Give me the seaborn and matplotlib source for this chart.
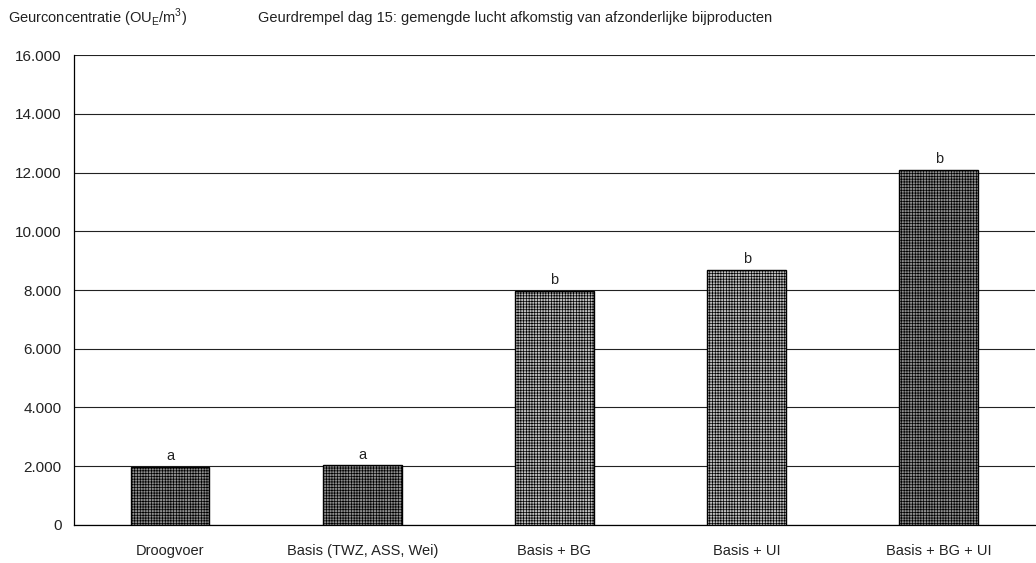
import matplotlib
matplotlib.use("Agg")
import matplotlib.pyplot as plt
from matplotlib.ticker import FuncFormatter, FixedLocator
import seaborn as sns
import pandas as pd

categories = ["Droogvoer", "Basis (TWZ, ASS, Wei)", "Basis + BG", "Basis + UI", "Basis + BG + UI"]
values = [1970, 2030, 7970, 8680, 12080]
letters = ["a", "a", "b", "b", "b"]
shades = ["dark", "dark", "light", "light", "dark"]

face = {"dark": "#8c8c8c", "light": "#bdbdbd"}
hatchc = {"dark": "#3c3c3c", "light": "#6a6a6a"}

sns.set_style("white")
plt.rcParams["font.family"] = ["Liberation Sans", "DejaVu Sans"]
plt.rcParams["hatch.linewidth"] = 0.5

df = pd.DataFrame({"cat": categories, "val": values})

fig = plt.figure(figsize=(10.36, 5.63), dpi=100)
ax = fig.add_axes([0.0714, 0.0675, 0.9276, 0.8348])

sns.barplot(data=df, x="cat", y="val", hue="cat", legend=False,
            palette=[face[s] for s in shades], width=0.41,
            edgecolor="black", linewidth=1.0, saturation=1, ax=ax)

for patch, s in zip(ax.patches, shades):
    patch.set_hatch("++++++")
    if hasattr(patch, "set_hatchcolor"):
        patch.set_hatchcolor(hatchc[s])
    patch.set_zorder(3)

for i, (v, t) in enumerate(zip(values, letters)):
    ax.text(i, v + 130, t, ha="center", va="bottom", fontsize=10.5, color="#222222")

ax.set_ylim(0, 16000)
ax.set_xlim(-0.5, 4.5)
ax.set_yticks(range(0, 16001, 2000))
ax.yaxis.set_major_formatter(FuncFormatter(lambda v, p: f"{int(v):,}".replace(",", ".")))
ax.grid(axis="y", color="#222222", linewidth=0.8, zorder=0)
ax.set_axisbelow(True)

ax.xaxis.set_minor_locator(FixedLocator([-0.5, 0.5, 1.5, 2.5, 3.5, 4.5]))
ax.tick_params(axis="x", which="major", length=0, pad=14, labelsize=10.5, labelcolor="#222222")
ax.tick_params(axis="x", which="minor", length=5, width=0.8, direction="out", color="black")
ax.tick_params(axis="y", length=6, width=0.8, direction="out", color="black",
               labelsize=11, pad=3, labelcolor="#222222")
ax.set_xlabel("")
ax.set_ylabel("")

for side in ["top", "right"]:
    ax.spines[side].set_visible(False)
for side in ["left", "bottom"]:
    ax.spines[side].set_color("black")
    ax.spines[side].set_linewidth(0.9)

fig.text(0.008, 0.968, "Geurconcentratie (OU$_\\mathregular{E}$/m$^\\mathregular{3}$)",
         fontsize=10.5, va="center", ha="left", color="#222222")
fig.text(0.249, 0.968, "Geurdrempel dag 15: gemengde lucht afkomstig van afzonderlijke bijproducten",
         fontsize=10.5, va="center", ha="left", color="#222222")

fig.savefig("out.png", dpi=100)
